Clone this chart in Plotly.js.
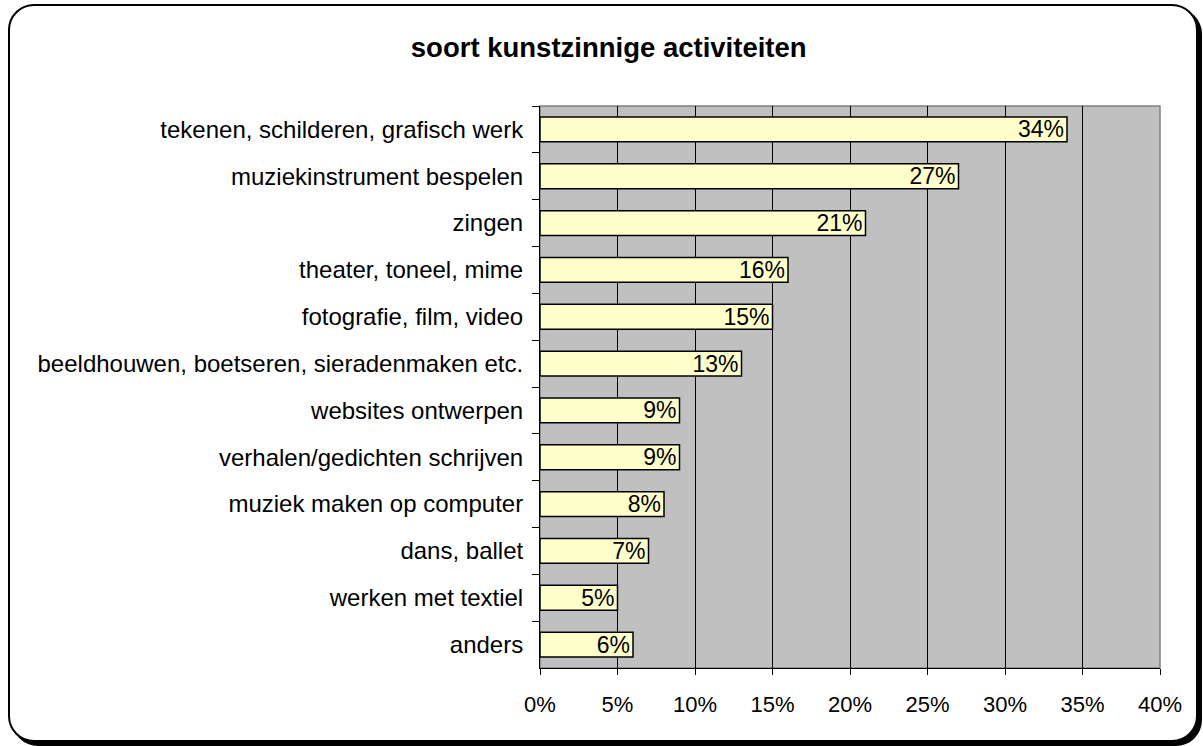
<!DOCTYPE html>
<html><head><meta charset="utf-8">
<script src="https://cdn.plot.ly/plotly-3.0.1.min.js"></script>
<style>
html,body{margin:0;padding:0;background:#fff;}
#frame{position:absolute;left:8px;top:4px;width:1186px;height:734px;border:2px solid #000;border-radius:26px;box-shadow:4px 4px 0 #000;background:#fff;}
#chart{position:absolute;left:0;top:0;width:1203px;height:746px;}
</style></head>
<body>
<div id="frame"></div>
<div id="chart"></div>
<script>
const categories = ["tekenen, schilderen, grafisch werk","muziekinstrument bespelen","zingen","theater, toneel, mime","fotografie, film, video","beeldhouwen, boetseren, sieradenmaken etc.","websites ontwerpen","verhalen/gedichten schrijven","muziek maken op computer","dans, ballet","werken met textiel","anders"];
const values = [34,27,21,16,15,13,9,9,8,7,5,6];
const tickVals = [0,5,10,15,20,25,30,35,40];
const tickText = ["0%","5%","10%","15%","20%","25%","30%","35%","40%"];
const chartTitle = "soort kunstzinnige activiteiten";

const font = "Liberation Sans, Arial, sans-serif";
Plotly.newPlot('chart', [{
  type:'bar', orientation:'h',
  x: values, y: categories,
  marker:{color:'#FFFFCC', line:{color:'#000', width:1.5}},
  text: values.map(v=>v+'%'),
  textposition:'inside', insidetextanchor:'end',
  textfont:{family:font, size:23, color:'#000'},
  constraintext:'none',
  hoverinfo:'none', cliponaxis:false
}], {
  width:1203, height:746,
  paper_bgcolor:'rgba(0,0,0,0)', plot_bgcolor:'#C0C0C0',
  margin:{l:540, r:43, t:106, b:78, pad:0},
  bargap:0.47,
  showlegend:false,
  title:{text:chartTitle, font:{family:font, size:27.5, color:'#000', weight:'bold'}, x:0.506, xref:'container', y:0.95, yref:'container', xanchor:'center', yanchor:'top'},
  xaxis:{range:[0,40], tickvals:tickVals, ticktext:tickText, showgrid:true, gridcolor:'#000', gridwidth:1,
    zeroline:false, showline:true, linecolor:'#000', linewidth:1, ticks:'outside', ticklen:6, tickcolor:'#000',
    ticklabelstandoff:11,
    tickfont:{family:font, size:22, color:'#000'}, fixedrange:true, mirror:false},
  yaxis:{autorange:'reversed', type:'category', tickson:'boundaries', ticks:'outside', ticklen:7, tickcolor:'#000',
    showline:true, linecolor:'#000', linewidth:1, showgrid:false, ticklabelstandoff:11,
    tickfont:{family:font, size:24, color:'#000'}, fixedrange:true},
  shapes:[{type:'rect', xref:'paper', yref:'paper', x0:0, x1:1, y0:0, y1:1, line:{color:'#808080', width:1.5}, layer:'below'}],
  font:{family:font}
}, {staticPlot:true});
</script>
</body></html>
